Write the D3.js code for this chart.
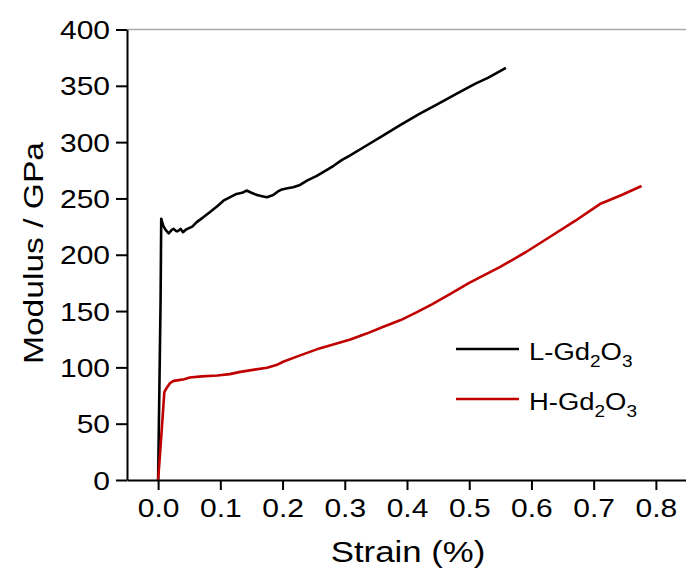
<!DOCTYPE html>
<html>
<head>
<meta charset="utf-8">
<script src="https://cdn.jsdelivr.net/npm/d3@7"></script>
<style>
  body { margin: 0; background: #fff; }
  svg { display: block; font-family: Arial, "Liberation Sans", sans-serif; }
</style>
</head>
<body>
<svg id="svgId"></svg>
<script>
// L-Gd2O3 (black)
const lStrain  = [0, 0.002, 0.004, 0.005, 0.008, 0.012, 0.017, 0.022, 0.025, 0.029, 0.032, 0.036, 0.04, 0.044, 0.047, 0.055, 0.062, 0.072, 0.0835, 0.095, 0.105, 0.115, 0.126, 0.135, 0.142, 0.15, 0.159, 0.167, 0.175, 0.185, 0.192, 0.199, 0.208, 0.217, 0.228, 0.24, 0.255, 0.27, 0.282, 0.295, 0.308, 0.335, 0.362, 0.389, 0.42, 0.45, 0.48, 0.51, 0.53, 0.559];
const lModulus = [0, 80, 160, 232, 226, 222, 219, 222, 223, 221, 221, 223, 220, 222, 223, 225, 229, 233, 238, 243, 248, 251, 254, 255, 257, 255, 253, 252, 251, 253, 256, 258, 259, 260, 262, 266, 270, 275, 279, 284, 288, 297, 306, 315, 325, 334, 343, 352, 357, 366];

// H-Gd2O3 (red)
const hStrain  = [0, 0.004, 0.008, 0.01, 0.014, 0.019, 0.025, 0.033, 0.042, 0.051, 0.07, 0.095, 0.115, 0.132, 0.155, 0.175, 0.19, 0.201, 0.225, 0.255, 0.28, 0.309, 0.335, 0.362, 0.39, 0.416, 0.44, 0.469, 0.5, 0.549, 0.59, 0.63, 0.67, 0.71, 0.745, 0.777];
const hModulus = [0, 30, 62, 78, 82, 86, 88, 88.7, 89.5, 91, 92, 92.8, 94, 96, 98, 99.6, 102, 105, 110, 116, 120, 124.8, 130, 136, 142, 149, 156, 165, 175, 189, 202, 216, 230, 245, 253, 261];

const xTicks = [0, 0.1, 0.2, 0.3, 0.4, 0.5, 0.6, 0.7, 0.8];
const yTicks = [0, 50, 100, 150, 200, 250, 300, 350, 400];

const seriesNames = ['L-Gd', 'H-Gd'];
const seriesColors = ['#000000', '#c00000'];

const width = 686;
const height = 578;
const margin = { top: 29.5, right: 0, bottom: 98, left: 127 };
const stretch = 1.2; // the original lettering is wider than Arial

const svg = d3.select('#svgId').attr('width', width).attr('height', height);

const xScale = d3.scaleLinear().domain([-0.05, 0.85]).range([margin.left, width - margin.right + 1]);
const yScale = d3.scaleLinear().domain([0, 400]).range([height - margin.bottom, margin.top]);

// top frame line
svg.append('line')
    .attr('x1', margin.left).attr('x2', width)
    .attr('y1', margin.top).attr('y2', margin.top)
    .attr('stroke', '#aaaaaa').attr('stroke-width', 1.5);

const line = d3.line()
    .x(d => xScale(d[0]))
    .y(d => yScale(d[1]));

const series = [
    d3.zip(lStrain, lModulus),
    d3.zip(hStrain, hModulus)
];

series.forEach((pts, i) => {
    svg.append('path')
        .datum(pts)
        .attr('fill', 'none')
        .attr('stroke', seriesColors[i])
        .attr('stroke-width', 2.6)
        .attr('stroke-linejoin', 'round')
        .attr('d', line);
});

// axes
const xAxis = svg.append('g')
    .attr('transform', `translate(0, ${yScale(0)})`)
    .call(d3.axisBottom(xScale).tickValues(xTicks).tickFormat(d3.format('.1f')).tickSize(10).tickSizeOuter(0));
xAxis.selectAll('text')
    .style('font-size', '25px')
    .attr('fill', '#000')
    .attr('dy', '0.96em')
    .attr('transform', `scale(${stretch},1)`);

const yAxis = svg.append('g')
    .attr('transform', `translate(${margin.left}, 0)`)
    .call(d3.axisLeft(yScale).tickValues(yTicks).tickSize(11).tickSizeOuter(0));
yAxis.selectAll('text')
    .style('font-size', '25px')
    .attr('fill', '#000')
    .attr('dy', '0.36em')
    .attr('x', -17 / stretch)
    .attr('transform', `scale(${stretch},1)`);

svg.selectAll('.domain, .tick line').attr('stroke', '#000').attr('stroke-width', 2);

// axis titles
svg.append('text')
    .attr('transform', `translate(408, 562) scale(${stretch},1)`)
    .attr('text-anchor', 'middle')
    .style('font-size', '29px')
    .text('Strain (%)');

svg.append('text')
    .attr('transform', `translate(43, 253) rotate(-90) scale(${stretch},1)`)
    .attr('text-anchor', 'middle')
    .style('font-size', '28px')
    .text('Modulus / GPa');

// legend
const legend = svg.append('g').attr('transform', 'translate(456, 349)');
seriesNames.forEach((name, i) => {
    legend.append('line')
        .attr('x1', 0).attr('x2', 63)
        .attr('y1', i * 50).attr('y2', i * 50)
        .attr('stroke', seriesColors[i])
        .attr('stroke-width', 2.6);

    const t = legend.append('text')
        .attr('transform', `translate(73, ${i * 50 + 11}) scale(1.12,1)`)
        .style('font-size', '24.5px');
    t.append('tspan').text(name);
    t.append('tspan').attr('dy', 7).style('font-size', '17px').text('2');
    t.append('tspan').attr('dy', -7).text('O');
    t.append('tspan').attr('dy', 7).style('font-size', '17px').text('3');
});
</script>
</body>
</html>
